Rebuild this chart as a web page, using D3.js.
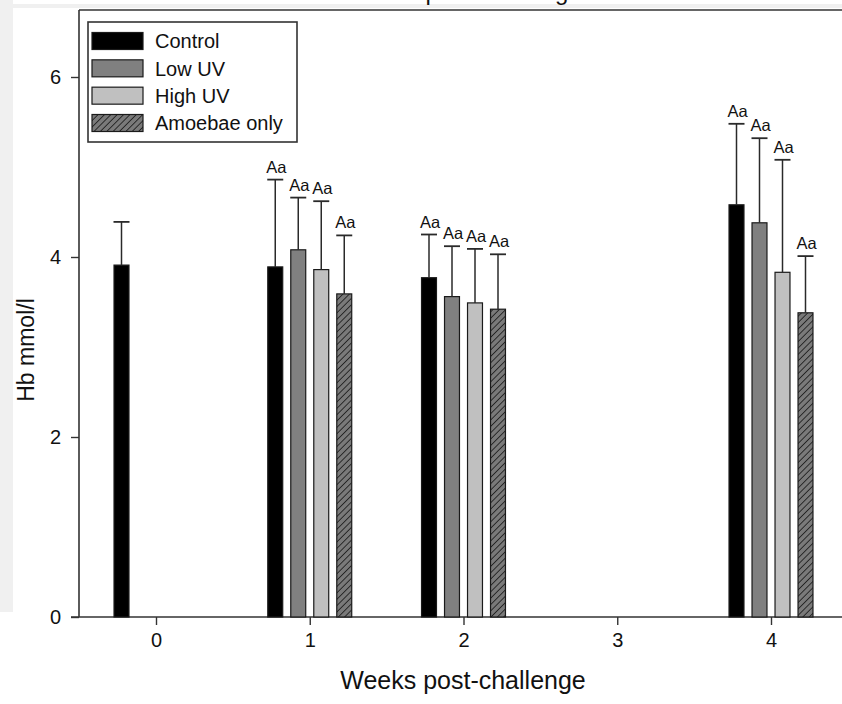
<!DOCTYPE html>
<html>
<head>
<meta charset="utf-8">
<script src="https://cdn.jsdelivr.net/npm/d3@7"></script>
<style>
  html, body { margin: 0; padding: 0; background: #ffffff; }
  svg { display: block; font-family: "Liberation Sans", Arial, sans-serif; }
</style>
</head>
<body>
<svg id="chart" width="842" height="704"></svg>
<script>
// Sampling weeks (x axis ticks) and the weeks that carry bars
const weekTicks = [0, 1, 2, 3, 4];
const sampledWeeks = [0, 1, 2, 4];
const yTicks = [0, 2, 4, 6];

// Treatment groups
const seriesNames = ["Control", "Low UV", "High UV", "Amoebae only"];

// Mean Hb (mmol/l) per sampled week; null = not sampled
const controlMean  = [3.91, 3.89, 3.77, 4.58];
const lowUvMean    = [null, 4.08, 3.56, 4.38];
const highUvMean   = [null, 3.86, 3.49, 3.83];
const amoebaeMean  = [null, 3.59, 3.42, 3.38];

// Upper error (SD) per sampled week
const controlErr  = [0.48, 0.97, 0.48, 0.90];
const lowUvErr    = [null, 0.58, 0.56, 0.94];
const highUvErr   = [null, 0.76, 0.60, 1.25];
const amoebaeErr  = [null, 0.65, 0.61, 0.63];

// Significance letters per sampled week
const controlLetters = ["", "Aa", "Aa", "Aa"];
const lowUvLetters   = ["", "Aa", "Aa", "Aa"];
const highUvLetters  = ["", "Aa", "Aa", "Aa"];
const amoebaeLetters = ["", "Aa", "Aa", "Aa"];

const meansBySeries   = [controlMean, lowUvMean, highUvMean, amoebaeMean];
const errBySeries     = [controlErr, lowUvErr, highUvErr, amoebaeErr];
const lettersBySeries = [controlLetters, lowUvLetters, highUvLetters, amoebaeLetters];

const rows = [];
seriesNames.forEach((s, si) => {
  sampledWeeks.forEach((w, wi) => {
    const m = meansBySeries[si][wi];
    if (m == null) return;
    rows.push({ series: s, week: w, mean: m, err: errBySeries[si][wi], letter: lettersBySeries[si][wi] });
  });
});

const svg = d3.select("#chart");
const W = 842, H = 704;

// page backdrop strips
svg.append("rect").attr("x", 0).attr("y", 0).attr("width", 13).attr("height", 612).attr("fill", "#f0f0f0");
svg.append("rect").attr("x", 0).attr("y", 4).attr("width", W).attr("height", 4).attr("fill", "#f0f0f0");

// title, mostly above the page top
svg.append("text")
  .attr("x", 485).attr("y", 0)
  .attr("text-anchor", "middle")
  .attr("font-size", 24)
  .attr("fill", "#111")
  .text("Hb post-challenge");

const plotLeft = 79, plotTop = 10, plotBottom = 617;

const x = d3.scaleLinear().domain([0, 4]).range([156, 771]);
const y = d3.scaleLinear().domain([0, 6]).range([plotBottom, 77]);

const sub = d3.scaleBand().domain(seriesNames).range([-46, 46]).paddingInner(0.35).paddingOuter(0.175);

const fills = { "Control": "#000000", "Low UV": "#808080", "High UV": "#c0c0c0", "Amoebae only": "url(#hatch)" };

// hatch pattern for Amoebae only
const defs = svg.append("defs");
const pat = defs.append("pattern")
  .attr("id", "hatch").attr("patternUnits", "userSpaceOnUse")
  .attr("width", 4.5).attr("height", 4.5)
  .attr("patternTransform", "rotate(45)");
pat.append("rect").attr("width", 4.5).attr("height", 4.5).attr("fill", "#7a7a7a");
pat.append("line").attr("x1", 0).attr("y1", 0).attr("x2", 0).attr("y2", 4.5)
  .attr("stroke", "#111").attr("stroke-width", 1.5);

// frame: top line
svg.append("line").attr("x1", plotLeft).attr("x2", W + 5).attr("y1", plotTop).attr("y2", plotTop)
  .attr("stroke", "#333").attr("stroke-width", 1.6);

// y axis
const yAxis = svg.append("g")
  .attr("transform", `translate(${plotLeft},0)`)
  .call(d3.axisLeft(y).tickValues(yTicks).tickFormat(d3.format("d")).tickSize(8).tickPadding(10));
yAxis.select(".domain").remove();
yAxis.append("line").attr("x1", 0).attr("x2", 0).attr("y1", plotTop).attr("y2", plotBottom)
  .attr("stroke", "#333").attr("stroke-width", 1.6);
yAxis.selectAll(".tick line").attr("stroke", "#333").attr("stroke-width", 1.4);
yAxis.selectAll(".tick text").attr("font-size", 20).attr("fill", "#111").attr("font-family", "Liberation Sans, Arial, sans-serif");

// x axis
const xAxis = svg.append("g")
  .attr("transform", `translate(0,${plotBottom})`)
  .call(d3.axisBottom(x).tickValues(weekTicks).tickFormat(d3.format("d")).tickSize(8).tickPadding(8));
xAxis.select(".domain").remove();
xAxis.append("line").attr("x1", plotLeft - 8).attr("x2", W + 5).attr("y1", 0).attr("y2", 0)
  .attr("stroke", "#333").attr("stroke-width", 1.6);
xAxis.selectAll(".tick line").attr("stroke", "#333").attr("stroke-width", 1.4);
xAxis.selectAll(".tick text").attr("font-size", 20).attr("fill", "#111").attr("font-family", "Liberation Sans, Arial, sans-serif");

// bars
const bw = sub.bandwidth();
const g = svg.append("g");
g.selectAll("rect.bar").data(rows).join("rect")
  .attr("class", "bar")
  .attr("x", d => x(d.week) + sub(d.series))
  .attr("y", d => y(d.mean))
  .attr("width", bw)
  .attr("height", d => y(0) - y(d.mean))
  .attr("fill", d => fills[d.series])
  .attr("stroke", "#1a1a1a")
  .attr("stroke-width", 1.2);

// error whiskers (upper only)
g.selectAll("line.whisker").data(rows).join("line")
  .attr("class", "whisker")
  .attr("x1", d => x(d.week) + sub(d.series) + bw / 2)
  .attr("x2", d => x(d.week) + sub(d.series) + bw / 2)
  .attr("y1", d => y(d.mean))
  .attr("y2", d => y(d.mean + d.err))
  .attr("stroke", "#2a2a2a").attr("stroke-width", 1.5);
g.selectAll("line.cap").data(rows).join("line")
  .attr("class", "cap")
  .attr("x1", d => x(d.week) + sub(d.series) + bw / 2 - 8)
  .attr("x2", d => x(d.week) + sub(d.series) + bw / 2 + 8)
  .attr("y1", d => y(d.mean + d.err))
  .attr("y2", d => y(d.mean + d.err))
  .attr("stroke", "#2a2a2a").attr("stroke-width", 1.8);

// letters above whiskers
g.selectAll("text.letter").data(rows.filter(d => d.letter)).join("text")
  .attr("class", "letter")
  .attr("x", d => x(d.week) + sub(d.series) + bw / 2 + 1)
  .attr("y", d => y(d.mean + d.err) - 7)
  .attr("text-anchor", "middle")
  .attr("font-size", 16.5)
  .attr("fill", "#111")
  .text(d => d.letter);

// axis titles
svg.append("text")
  .attr("x", 463).attr("y", 689)
  .attr("text-anchor", "middle")
  .attr("font-size", 25)
  .attr("fill", "#111")
  .text("Weeks post-challenge");
svg.append("text")
  .attr("transform", "translate(34,350) rotate(-90)")
  .attr("text-anchor", "middle")
  .attr("font-size", 23)
  .attr("fill", "#111")
  .text("Hb mmol/l");

// legend
const lg = svg.append("g");
lg.append("rect").attr("x", 88).attr("y", 22).attr("width", 209).attr("height", 120)
  .attr("fill", "#fff").attr("stroke", "#333").attr("stroke-width", 1.6);
const legY = d3.scalePoint().domain(seriesNames).range([41, 123]);
const items = lg.selectAll("g.item").data(seriesNames).join("g").attr("class", "item")
  .attr("transform", d => `translate(0,${legY(d)})`);
items.append("rect").attr("x", 92).attr("y", -8.5).attr("width", 51).attr("height", 17)
  .attr("fill", d => fills[d]).attr("stroke", "#1a1a1a").attr("stroke-width", 1.2);
items.append("text").attr("x", 155).attr("y", 0).attr("dy", "0.36em")
  .attr("font-size", 20).attr("fill", "#111").text(d => d);
</script>
</body>
</html>
